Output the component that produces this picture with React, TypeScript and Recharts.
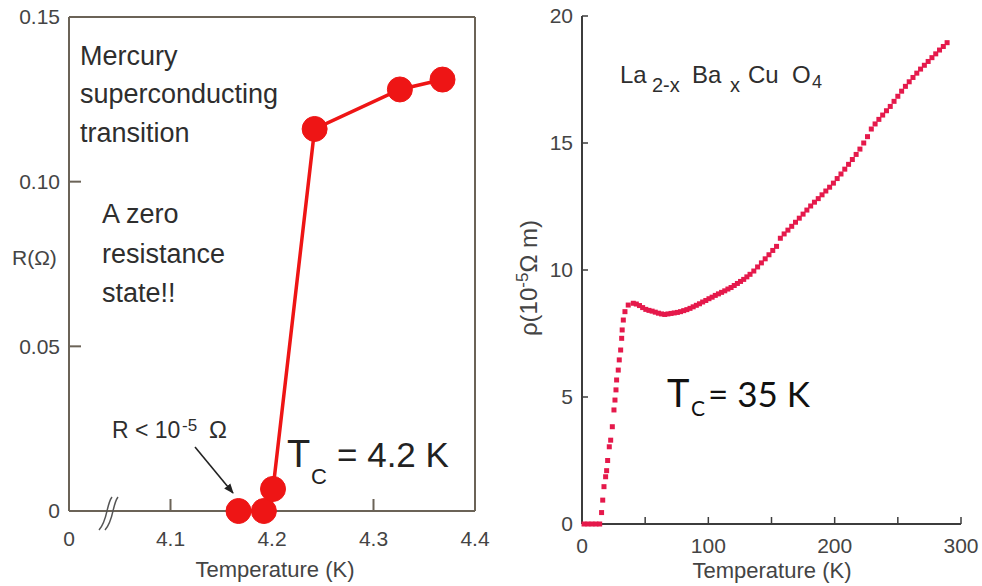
import React from 'react';
import { LineChart, Line, ScatterChart, Scatter, XAxis, YAxis, ReferenceLine } from 'recharts';

// Mercury, Onnes 1911
const hgTemp = [4.167, 4.192, 4.201, 4.242, 4.326, 4.368];
const hgResistance = [0.0, 0.0, 0.0067, 0.116, 0.128, 0.131];
const hgTempTicks = [4.0, 4.1, 4.2, 4.3, 4.4];
const hgResTicks = [0, 0.05, 0.1, 0.15];

// La2-xBaxCuO4, Bednorz & Muller 1986
const lbcoTemp = [
  1.6, 4.7, 7.9, 11, 14, 15.5, 16.4, 17.4, 18.7, 19.5, 20.3, 21.6, 22.7, 24, 25.3, 26.1, 26.9, 27.4,
  28.7, 29.5, 30.6, 31.4, 31.8, 32.7, 34, 36.6, 40.6, 43, 45.5, 48, 50.5, 53, 55.5, 58, 60.5, 63,
  65.5, 68, 70.5, 73, 75.5, 78, 80.5, 83, 85.5, 88, 90.5, 93, 95.5, 98, 100.5, 103, 105.5, 108,
  110.5, 113, 115.5, 118, 120.5, 123, 125.5, 128, 130.5, 133, 136, 139, 142, 145, 148, 151, 154,
  157, 160, 163, 166, 169, 172, 175, 178, 181, 184, 187, 190, 193, 196, 199, 202, 205, 208, 211,
  214, 217, 220, 223, 226, 229, 232, 235, 238, 241, 244, 247, 250, 253, 256, 259, 262, 265, 268,
  271, 274, 277, 280, 283, 286, 289,
];
const lbcoRho = [
  0, 0, 0, 0, 0, 0.45, 0.94, 1.47, 1.86, 2.1, 2.5, 3.04, 3.3, 3.83, 4.49, 4.88, 5.28, 5.67,
  6.06, 6.46, 6.85, 7.31, 7.64, 8.03, 8.36, 8.62, 8.69, 8.66, 8.6, 8.52, 8.45, 8.41, 8.38, 8.34, 8.3, 8.27,
  8.25, 8.27, 8.29, 8.31, 8.33, 8.36, 8.4, 8.44, 8.49, 8.55, 8.61, 8.67, 8.74, 8.8, 8.87, 8.93, 9.0, 9.06,
  9.12, 9.18, 9.25, 9.31, 9.39, 9.47, 9.55, 9.63, 9.73, 9.83, 9.96, 10.12, 10.28, 10.44, 10.6, 10.77, 10.93,
  11.25, 11.42, 11.57, 11.72, 11.88, 12.04, 12.2, 12.36, 12.52, 12.67, 12.81, 12.96, 13.11, 13.26, 13.42, 13.6, 13.78, 13.97, 14.16,
  14.35, 14.55, 14.76, 15.0, 15.25, 15.55, 15.75, 15.93, 16.1, 16.27, 16.44, 16.64, 16.84, 17.04, 17.23, 17.41, 17.58, 17.75, 17.91,
  18.06, 18.21, 18.36, 18.51, 18.66, 18.8, 18.95,
];
const lbcoTempTicks = [0, 50, 100, 150, 200, 250, 300];
const lbcoRhoTicks = [0, 5, 10, 15, 20];

const HG_RED = '#ee1515';
const LBCO_RED = '#e5194b';
const FONT = 'Liberation Sans, Arial, Helvetica, sans-serif';

const hgData = hgTemp.map((t, i) => ({ t, r: hgResistance[i] }));
const lbcoData = lbcoTemp.map((t, i) => ({ t, rho: lbcoRho[i] }));

const SquareDot = (props: any) => (
  <rect x={props.cx - 2.5} y={props.cy - 2.5} width={5} height={5} fill={LBCO_RED} />
);

function MercuryChart() {
  const axisStroke = '#6b6357';
  return (
    <LineChart width={490} height={586} data={hgData} margin={{ top: 17, right: 15, left: 0, bottom: 0 }}>
      <XAxis
        dataKey="t"
        type="number"
        domain={[4.0, 4.4]}
        ticks={hgTempTicks}
        interval={0}
        height={75}
        tickFormatter={(v) => (v === 4 ? '0' : v.toFixed(1))}
        axisLine={{ stroke: axisStroke, strokeWidth: 2 }}
        tickLine={{ stroke: axisStroke, strokeWidth: 2 }}
        tickSize={-12}
        tickMargin={32}
        tick={{ fontSize: 21, fill: '#444', fontFamily: FONT }}
      />
      <YAxis
        dataKey="r"
        type="number"
        domain={[0, 0.15]}
        ticks={hgResTicks}
        interval={0}
        width={69}
        tickFormatter={(v) => (v === 0 ? '0' : v.toFixed(2))}
        axisLine={{ stroke: axisStroke, strokeWidth: 2 }}
        tickLine={{ stroke: axisStroke, strokeWidth: 2 }}
        tickSize={-12}
        tickMargin={21}
        tick={{ fontSize: 21, fill: '#444', fontFamily: FONT }}
      />
      <ReferenceLine y={0.15} stroke={axisStroke} strokeWidth={2} />
      <ReferenceLine x={4.4} stroke={axisStroke} strokeWidth={2} />
      <Line
        dataKey="r"
        stroke={HG_RED}
        strokeWidth={3.5}
        dot={{ r: 12.5, fill: HG_RED, stroke: HG_RED, strokeWidth: 1 }}
        isAnimationActive={false}
      />
    </LineChart>
  );
}

function CuprateChart() {
  const axisStroke = '#3c3c3c';
  const tick = { fontSize: 21, fill: '#444', fontFamily: FONT };
  return (
    <ScatterChart width={492} height={586} margin={{ top: 16, right: 21, left: 0, bottom: 0 }}>
      <XAxis
        dataKey="t"
        type="number"
        domain={[0, 300]}
        ticks={lbcoTempTicks}
        interval={0}
        height={62}
        tickFormatter={(v) => (v % 100 === 0 ? String(v) : '')}
        axisLine={{ stroke: axisStroke, strokeWidth: 2 }}
        tickLine={{ stroke: axisStroke, strokeWidth: 1.5 }}
        tickSize={-7}
        tickMargin={21}
        tick={tick}
      />
      <XAxis
        xAxisId="top"
        orientation="top"
        type="number"
        domain={[0, 300]}
        allowDataOverflow
        ticks={lbcoTempTicks}
        interval={0}
        height={0}
        tickFormatter={() => ''}
        axisLine={{ stroke: axisStroke, strokeWidth: 2 }}
        tickLine={{ stroke: axisStroke, strokeWidth: 1.5 }}
        tickSize={-7}
      />
      <YAxis
        dataKey="rho"
        type="number"
        domain={[0, 20]}
        ticks={lbcoRhoTicks}
        interval={0}
        width={92}
        axisLine={{ stroke: axisStroke, strokeWidth: 2 }}
        tickLine={{ stroke: axisStroke, strokeWidth: 1.5 }}
        tickSize={-6}
        tickMargin={15}
        tick={tick}
      />
      <YAxis
        yAxisId="right"
        orientation="right"
        type="number"
        domain={[0, 20]}
        allowDataOverflow
        ticks={lbcoRhoTicks}
        interval={0}
        width={0}
        tickFormatter={() => ''}
        axisLine={{ stroke: axisStroke, strokeWidth: 2 }}
        tickLine={{ stroke: axisStroke, strokeWidth: 1.5 }}
        tickSize={-7}
      />
      <Scatter data={lbcoData} shape={SquareDot} isAnimationActive={false} />
    </ScatterChart>
  );
}

function Annotations() {
  return (
    <svg width={982} height={586} style={{ position: 'absolute', left: 0, top: 0, pointerEvents: 'none' }}>
      <defs>
        <marker id="arrowHead" markerWidth="10" markerHeight="10" refX="9" refY="5" orient="auto" markerUnits="userSpaceOnUse">
          <path d="M0,1 L10,5 L0,9 Z" fill="#222" />
        </marker>
      </defs>
      <g fontFamily={FONT} fill="#2e2e2e">
        <text x={80} y={65} fontSize={27}>Mercury</text>
        <text x={80} y={103} fontSize={27}>superconducting</text>
        <text x={80} y={142} fontSize={27}>transition</text>
        <text x={102} y={223} fontSize={27}>A zero</text>
        <text x={102} y={263} fontSize={27}>resistance</text>
        <text x={102} y={302} fontSize={27}>state!!</text>
        <text x={12} y={265} fontSize={21} fill="#444">R(Ω)</text>
        <text x={112} y={438} fontSize={23}>R &lt; 10</text>
        <text x={182} y={431} fontSize={17}>-5</text>
        <text x={209} y={438} fontSize={24}>Ω</text>
        <text x={287} y={467} fontSize={38} fill="#222">T</text>
        <text x={311} y={484} fontSize={22} fill="#222">C</text>
        <text x={337} y={467} fontSize={35} fill="#222">= 4.2 K</text>
        <text x={275} y={577} fontSize={22} textAnchor="middle" fill="#444">Temperature (K)</text>

        <text y={83} fontSize={24}>
          <tspan x={620}>La</tspan>
          <tspan x={652} fontSize={20} dy={9}>2-x</tspan>
          <tspan x={692} dy={-9}>Ba</tspan>
          <tspan x={730} fontSize={20} dy={9}>x</tspan>
          <tspan x={748} dy={-9}>Cu</tspan>
          <tspan x={792}>O</tspan>
          <tspan x={812} fontSize={18} dy={5}>4</tspan>
        </text>
        <text
          x={0}
          y={0}
          fontSize={24}
          textAnchor="middle"
          fill="#444"
          transform="translate(537 278) rotate(-90)"
        >
          ρ(10<tspan fontSize={17} dy={-9}>-5</tspan><tspan dy={9}>Ω m)</tspan>
        </text>
        <text x={772} y={578} fontSize={22} textAnchor="middle" fill="#444">Temperature (K)</text>
      </g>
      <g fontFamily="Lato, 'Open Sans', sans-serif" fill="#111">
        <text x={667} y={407} fontSize={38}>T</text>
        <text x={691} y={416} fontSize={21}>C</text>
        <text x={708} y={407} fontSize={35}>= 35 K</text>
      </g>
      <line x1={195} y1={447} x2={233} y2={493} stroke="#222" strokeWidth={1.6} markerEnd="url(#arrowHead)" />
      <path d="M112,497 C106,505 108,520 99,530" fill="none" stroke="#555" strokeWidth={1.5} />
      <path d="M118,497 C112,505 114,520 105,530" fill="none" stroke="#555" strokeWidth={1.5} />
    </svg>
  );
}

export default function App() {
  return (
    <div style={{ position: 'absolute', left: 0, top: 0, width: 982, height: 586, background: '#fff' }}>
      <div style={{ position: 'absolute', left: 0, top: 0 }}>
        <MercuryChart />
      </div>
      <div style={{ position: 'absolute', left: 490, top: 0 }}>
        <CuprateChart />
      </div>
      <Annotations />
    </div>
  );
}
